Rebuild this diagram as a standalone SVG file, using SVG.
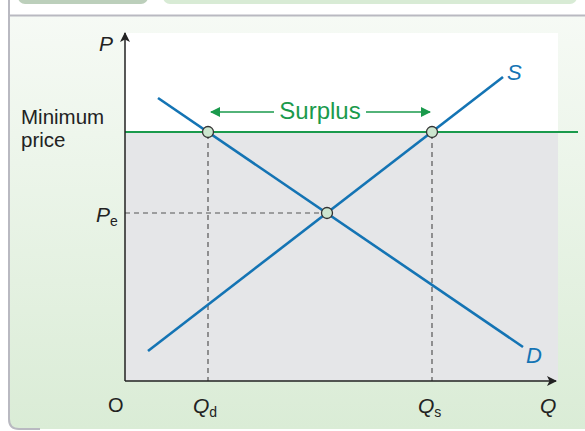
<svg xmlns="http://www.w3.org/2000/svg" width="585" height="431" viewBox="0 0 585 431">
<defs>
<linearGradient id="bg" x1="0" y1="0" x2="0" y2="1">
<stop offset="0" stop-color="#f6faf5"/>
<stop offset="1" stop-color="#daecd6"/>
</linearGradient>
<marker id="ax" viewBox="0 0 10 10" refX="9" refY="5" markerWidth="10" markerHeight="10" markerUnits="userSpaceOnUse" orient="auto">
<path d="M0,0 L10,5 L0,10 L2.5,5 Z" fill="#222"/>
</marker>
<marker id="ga" viewBox="0 0 10 10" refX="9" refY="5" markerWidth="11" markerHeight="10" markerUnits="userSpaceOnUse" orient="auto">
<path d="M0,0 L10,5 L0,10 Z" fill="#1a9a4c"/>
</marker>
</defs>
<style>
.t{font-family:"Liberation Sans",Arial,sans-serif;fill:#222}
.i{font-style:italic}
.crv{stroke:#1474b4;stroke-width:2.6;fill:none}
.dash{stroke:#555;stroke-width:1.2;stroke-dasharray:5,4;fill:none}
.pt{fill:#cde6cf;stroke:#333;stroke-width:1.3}
</style>
<rect x="0" y="0" width="585" height="431" fill="#ffffff"/>
<path d="M9,15 H585 V429 H19 Q9,429 9,419 Z" fill="url(#bg)"/>
<rect x="18" y="-10" width="130" height="14" rx="7" fill="#bccfbb"/>
<rect x="163" y="-10" width="414" height="14" rx="7" fill="#d8ebd5"/>
<path d="M9,0 V419 Q9,429 19,429 H40" fill="none" stroke="#b9b9c1" stroke-width="2"/>
<line x1="9" y1="15.5" x2="585" y2="15.5" stroke="#b9b9c1" stroke-width="2"/>
<rect x="125" y="33" width="433" height="99" fill="#ffffff"/>
<rect x="125" y="132" width="433" height="249" fill="#e5e6e8"/>
<g id="connectors">
<line class="dash" x1="208" y1="134" x2="208" y2="381"/>
<line class="dash" x1="432" y1="134" x2="432" y2="381"/>
<line class="dash" x1="125" y1="213" x2="327" y2="213"/>
<line x1="125" y1="132" x2="578" y2="132" stroke="#1a9a4c" stroke-width="2"/>
<line class="crv" x1="158" y1="98" x2="523" y2="347"/>
<line class="crv" x1="148" y1="351" x2="503" y2="77"/>
<line x1="125" y1="381" x2="125" y2="33" stroke="#222" stroke-width="1.5" marker-end="url(#ax)"/>
<line x1="125" y1="381" x2="556" y2="381" stroke="#222" stroke-width="1.5" marker-end="url(#ax)"/>
<line x1="274" y1="112" x2="211" y2="112" stroke="#1a9a4c" stroke-width="1.5" marker-end="url(#ga)"/>
<line x1="366" y1="112" x2="430" y2="112" stroke="#1a9a4c" stroke-width="1.5" marker-end="url(#ga)"/>
</g>
<g id="node-qd-point"><circle class="pt" cx="208" cy="132" r="5.5"/></g>
<g id="node-qs-point"><circle class="pt" cx="432" cy="132" r="5.5"/></g>
<g id="node-eq-point"><circle class="pt" cx="327" cy="213" r="5.5"/></g>
<g id="labels">
<text class="t i" x="99" y="51" font-size="21">P</text>
<text class="t" x="21" y="124" font-size="20.5">Minimum</text>
<text class="t" x="21" y="147" font-size="20.5">price</text>
<text class="t i" x="96" y="222" font-size="21">P<tspan font-size="14" font-style="normal" dy="4">e</tspan></text>
<text class="t" x="320" y="119" font-size="24" text-anchor="middle" style="fill:#1a9a4c">Surplus</text>
<text class="t i" x="507" y="80" font-size="22" style="fill:#1474b4">S</text>
<text class="t i" x="526" y="363" font-size="22" style="fill:#1474b4">D</text>
<text class="t" x="108" y="412" font-size="20">O</text>
<text class="t i" x="193" y="413" font-size="21">Q<tspan font-size="14" font-style="normal" dy="4">d</tspan></text>
<text class="t i" x="418" y="413" font-size="21">Q<tspan font-size="14" font-style="normal" dy="4">s</tspan></text>
<text class="t i" x="540" y="413" font-size="21">Q</text>
</g>
</svg>
